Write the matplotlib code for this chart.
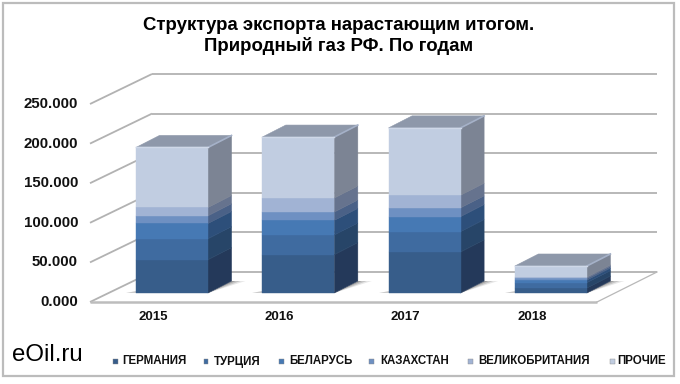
import matplotlib
matplotlib.use("Agg")
import matplotlib.pyplot as plt
from matplotlib.patches import Polygon, Rectangle

years = ["2015", "2016", "2017", "2018"]
series_names = ["ГЕРМАНИЯ", "ТУРЦИЯ", "БЕЛАРУСЬ", "КАЗАХСТАН", "ВЕЛИКОБРИТАНИЯ", "ПРОЧИЕ"]
germany = [42.0, 48.4, 51.8, 6.3]
turkey = [26.5, 24.8, 25.7, 6.7]
belarus = [19.3, 18.5, 19.0, 3.4]
kazakhstan = [9.7, 10.5, 11.0, 2.1]
uk = [10.5, 17.7, 16.0, 1.7]
other = [75.8, 77.0, 85.0, 13.9]
series = [germany, turkey, belarus, kazakhstan, uk, other]
ticks = [0, 50, 100, 150, 200, 250]
tick_labels = ["0.000", "50.000", "100.000", "150.000", "200.000", "250.000"]

front_c = ["#375d8a", "#3f6ba0", "#4679b4", "#6e90c2", "#a1b3d4", "#c1cde1"]
side_c = ["#24395a", "#274568", "#2d4f7a", "#4a6187", "#66738e", "#7c8494"]
top_c = "#8e98aa"
grid_c = "#b2b2b2"

W, H = 680, 384
PX_CAT, PX_VAL = 126.3, 0.792
X0, Y0 = 172.0, 293.0

fig = plt.figure(figsize=(W / 100, H / 100), dpi=100)
plt.rcParams["font.family"] = ["Liberation Sans", "DejaVu Sans"]
ax = fig.add_axes([0, 0, 1, 1])
ax.set_xlim(-X0 / PX_CAT, (W - X0) / PX_CAT)
ax.set_ylim((Y0 - H) / PX_VAL, Y0 / PX_VAL)
ax.axis("off")

px = lambda p: (p - X0) / PX_CAT
pv = lambda p: (Y0 - p) / PX_VAL
front_offset = pv(302)
back_offset = pv(272)
xl_f, xl_b, xr_f, xr_b = px(90), px(152), px(597), px(657)

for t in ticks:
    ax.plot([xl_f, xl_b], [t + front_offset, t + back_offset], color=grid_c, lw=1.3, zorder=1, solid_capstyle="butt")
    ax.plot([xl_b, xr_b], [t + back_offset] * 2, color=grid_c, lw=1.3, zorder=1, solid_capstyle="butt")
ax.plot([xl_f, xr_f], [front_offset] * 2, color="#bdbdbd", lw=1.8, zorder=1, solid_capstyle="butt")
ax.plot([xr_f, xr_b], [front_offset, back_offset], color="#b8b8b8", lw=0.9, zorder=1)

bar_w = 72 / PX_CAT
dx = 23.5 / PX_CAT
dy = 12 / PX_VAL

for i, _ in enumerate(years):
    l, r = i - bar_w / 2, i + bar_w / 2
    for k, a in ((14, .12), (9, .2), (4, .3)):
        ax.add_patch(Polygon([(r, 0), (r + dx + k / PX_CAT, dy), (r + dx, dy), (r, 0)],
                             closed=True, fc="#404040", ec="none", alpha=a, zorder=2))
    ax.add_patch(Polygon([(l - 10 / PX_CAT, 0), (l, 0), (l, 2 / PX_VAL)], closed=True,
                         fc="#808080", ec="none", alpha=.4, zorder=2))
    bottom = 0.0
    for s, vals in enumerate(series):
        v = vals[i]
        ax.bar(i, v, bar_w, bottom=bottom, color=front_c[s], edgecolor=front_c[s], lw=0.3, zorder=4)
        ax.add_patch(Polygon([(r, bottom), (r + dx, bottom + dy), (r + dx, bottom + v + dy), (r, bottom + v)],
                             closed=True, fc=side_c[s], ec=side_c[s], lw=0.4, zorder=3))
        bottom += v
    ax.add_patch(Polygon([(l, bottom), (r, bottom), (r + dx, bottom + dy), (l + dx, bottom + dy)],
                         closed=True, fc=top_c, ec=top_c, lw=0.4, zorder=3))
    ax.plot([r, r + dx], [bottom, bottom + dy], color="#a5b1c8", lw=1.2, zorder=5)
    ax.plot([l, r], [bottom, bottom], color="#cfd8e8", lw=1.0, zorder=5)
    ax.text(i - 19 / PX_CAT, pv(317.5), years[i], ha="center", va="center",
            fontsize=9.5, fontweight="bold", color="#111111", zorder=6)

for t, lab in zip(ticks, tick_labels):
    ax.text(px(78), t + front_offset, lab, ha="right", va="center",
            fontsize=10.8, fontweight="bold", color="#111111")

fig.text(339 / W, 1 - 36 / H, "Структура экспорта нарастающим итогом.\nПриродный газ РФ. По годам",
         ha="center", va="center", fontsize=13.4, fontweight="bold", color="black", linespacing=1.15)

fig.text(12 / W, 1 - 355 / H, "eOil.ru", ha="left", va="center", fontsize=17.3, color="black")

sq_x = [115, 206, 281, 372, 470, 612]
tx_x = [122, 214, 289, 380, 478, 617]
for name, sx, tx, c in zip(series_names, sq_x, tx_x, front_c):
    fig.add_artist(Rectangle(((sx - 2.5) / W, 1 - 363.5 / H), 5 / W, 5 / H, transform=fig.transFigure,
                             fc=c, ec="#8a8a8a", lw=0.3))
    fig.text(tx / W, 1 - 361.5 / H, name, ha="left", va="center", fontsize=8.3, fontweight="bold", color="#111111")

fig.add_artist(Rectangle((2.5 / W, 1 - 375.5 / H), 671.5 / W, 373 / H, transform=fig.transFigure,
                         fc="none", ec="#bcbcbc", lw=1.6))

fig.savefig("out.png", dpi=100)
